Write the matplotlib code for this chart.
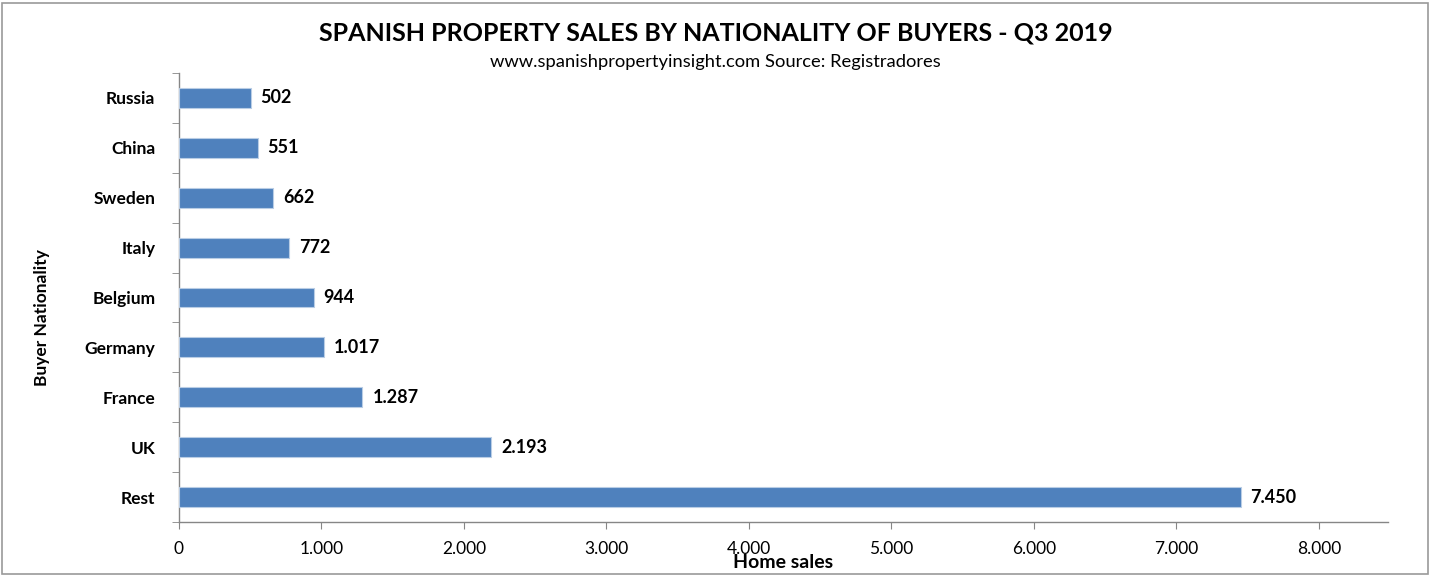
import matplotlib
matplotlib.use("Agg")
import matplotlib.pyplot as plt
from matplotlib.patches import Rectangle
import numpy as np

categories = ["Rest", "UK", "France", "Germany", "Belgium", "Italy", "Sweden", "China", "Russia"]
sales = [7450, 2193, 1287, 1017, 944, 772, 662, 551, 502]
xticks = [0, 1000, 2000, 3000, 4000, 5000, 6000, 7000, 8000]

FONT = ["Lato", "DejaVu Sans"]
plt.rcParams["font.family"] = FONT

def fmt(v):
    return f"{v:,}".replace(",", ".")

W, H = 1431, 577
fig = plt.figure(figsize=(W / 100, H / 100), dpi=100)
fig.patches.append(Rectangle((2 / W, 3 / H), 1 - 5 / W, 1 - 6 / H, transform=fig.transFigure,
                             fill=False, edgecolor="#9a9a9a", linewidth=1.2))

ax = fig.add_axes([179 / W, (H - 522) / H, (1388 - 179) / W, (522 - 73) / H])
y = np.arange(len(categories))
ax.barh(y, sales, height=0.4, color="#4F81BD", edgecolor="#B9CDE5", linewidth=0.8, zorder=3)
for yi, v in zip(y, sales):
    ax.text(v + 70, yi, fmt(v), va="center", ha="left", fontsize=13, fontweight="bold", color="black")

ax.set_xlim(0, 8485)
ax.set_ylim(-0.5, len(categories) - 0.5)
ax.set_xticks(xticks)
ax.set_xticklabels([fmt(t) for t in xticks], fontsize=12.5)
ax.set_yticks(y)
ax.set_yticklabels(categories, fontsize=12.5, fontweight="bold")
ax.set_yticks(np.arange(-0.5, len(categories), 1), minor=True)
ax.tick_params(axis="y", which="major", length=0, pad=17)
ax.tick_params(axis="y", which="minor", length=5, color="#868686", direction="out")
ax.tick_params(axis="x", length=5, color="#868686", direction="out", pad=9)

for s in ["top", "right"]:
    ax.spines[s].set_visible(False)
for s in ["left", "bottom"]:
    ax.spines[s].set_color("#868686")
    ax.spines[s].set_linewidth(1.0)

fig.text(0.5, 1 - 33 / H, "SPANISH PROPERTY SALES BY NATIONALITY OF BUYERS - Q3 2019",
         ha="center", va="center", fontsize=18, fontweight="bold")
fig.text(0.5, 1 - 62 / H, "www.spanishpropertyinsight.com Source: Registradores",
         ha="center", va="center", fontsize=13.2)
fig.text(783 / W, 1 - 563 / H, "Home sales", ha="center", va="center", fontsize=14, fontweight="bold")
fig.text(42 / W, 1 - 318 / H, "Buyer Nationality", ha="center", va="center", rotation=90,
         fontsize=12.5, fontweight="bold")

fig.savefig("out.png", dpi=100)
